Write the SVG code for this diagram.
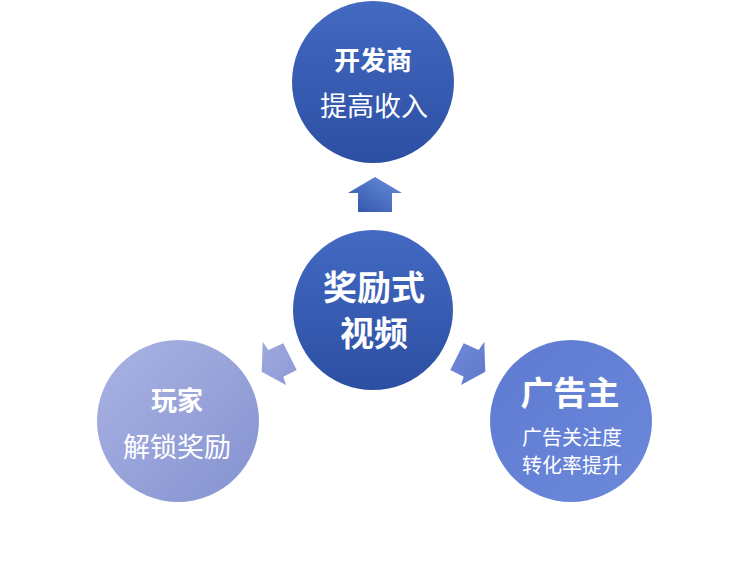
<svg xmlns="http://www.w3.org/2000/svg" width="749" height="568" viewBox="0 0 749 568">
<defs>
<linearGradient id="gDark" x1="0" y1="0" x2="0" y2="1">
<stop offset="0" stop-color="#4369c2"/>
<stop offset="1" stop-color="#2c4fa2"/>
</linearGradient>
<linearGradient id="gLav" x1="0" y1="0" x2="1" y2="1">
<stop offset="0" stop-color="#aab3e3"/>
<stop offset="1" stop-color="#8592d0"/>
</linearGradient>
<linearGradient id="gMid" x1="0" y1="0" x2="1" y2="1">
<stop offset="0" stop-color="#5f7bd2"/>
<stop offset="1" stop-color="#6c88da"/>
</linearGradient>
<linearGradient id="gUp" x1="0" y1="1" x2="1" y2="0">
<stop offset="0" stop-color="#2f52a8"/>
<stop offset="1" stop-color="#6a90dc"/>
</linearGradient>
<linearGradient id="gLArr" x1="0" y1="0" x2="1" y2="1">
<stop offset="0" stop-color="#a0a9de"/>
<stop offset="1" stop-color="#8d98d6"/>
</linearGradient>
<linearGradient id="gRArr" x1="0" y1="0" x2="1" y2="1">
<stop offset="0" stop-color="#7089d6"/>
<stop offset="1" stop-color="#5f79cc"/>
</linearGradient>
</defs>
<style>
text{font-family:"Noto Sans CJK SC","Noto Sans",sans-serif;fill:#ffffff;text-anchor:middle;dominant-baseline:central}
.b{font-weight:bold}
</style>
<rect width="749" height="568" fill="#ffffff"/>
<g id="connectors">
<polygon points="375,177 402,193 392,193 392,212 358,212 358,193 348,193" fill="url(#gUp)"/>
<polygon points="262.7,341.7 268.3,350 283.3,343.3 296.7,370 283.3,376.7 286,385 261.7,371.7" fill="url(#gLArr)"/>
<polygon points="484.3,341.7 478.7,350 463.7,343.3 450.3,370 463.7,376.7 461,385 485.3,371.7" fill="url(#gRArr)"/>
</g>
<g id="developer">
<circle cx="373" cy="82" r="81" fill="url(#gDark)"/>
<text class="b" x="373" y="58" font-size="26">开发商</text>
<text x="374" y="104" font-size="27">提高收入</text>
</g>
<g id="center">
<circle cx="373" cy="310" r="80" fill="url(#gDark)"/>
<text class="b" x="374" y="285" font-size="34">奖励式</text>
<text class="b" x="374" y="331" font-size="34">视频</text>
</g>
<g id="player">
<circle cx="178" cy="421" r="81" fill="url(#gLav)"/>
<text class="b" x="177" y="398" font-size="26">玩家</text>
<text x="177" y="445" font-size="27">解锁奖励</text>
</g>
<g id="advertiser">
<circle cx="571" cy="421" r="81" fill="url(#gMid)"/>
<text class="b" x="570" y="391" font-size="33">广告主</text>
<text x="572" y="436" font-size="20">广告关注度</text>
<text x="572" y="464" font-size="20">转化率提升</text>
</g>
</svg>
